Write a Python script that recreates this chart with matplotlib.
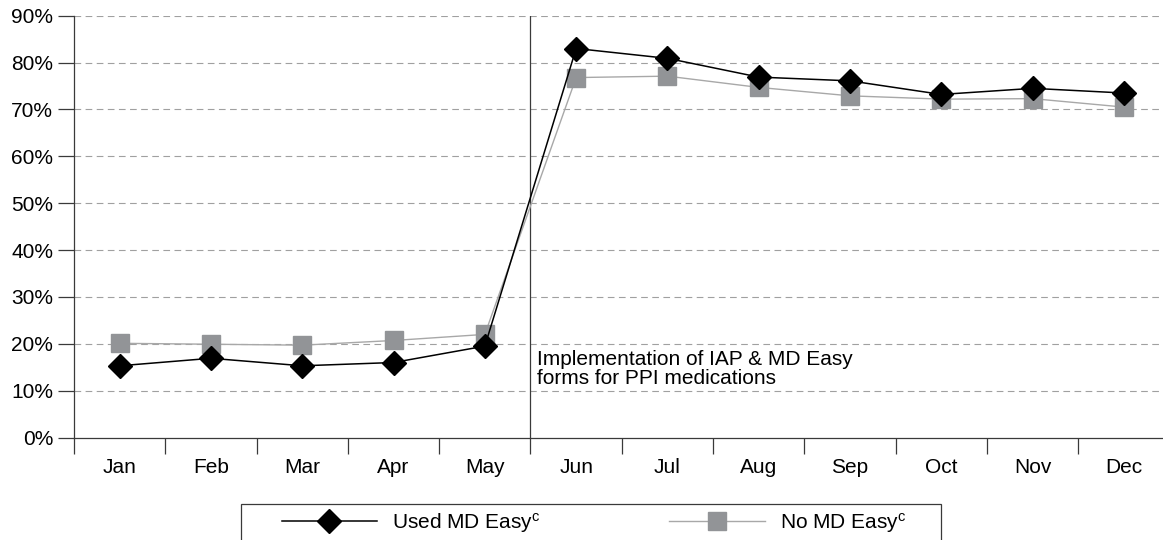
import numpy as np
import matplotlib
matplotlib.use("Agg")
import matplotlib.pyplot as plt
from matplotlib.lines import Line2D
from matplotlib.patches import Rectangle

# ---- data (percent) ----
months = ["Jan", "Feb", "Mar", "Apr", "May", "Jun",
          "Jul", "Aug", "Sep", "Oct", "Nov", "Dec"]
used_md_easy = [15.3, 16.9, 15.3, 16.0, 19.5, 83.0, 80.9, 76.9, 76.1, 73.2, 74.5, 73.5]
no_md_easy = [20.1, 19.9, 19.7, 20.7, 22.0, 76.8, 77.1, 74.7, 72.9, 72.2, 72.3, 70.5]
y_ticks = [0, 10, 20, 30, 40, 50, 60, 70, 80, 90]
note = "Implementation of IAP & MD Easy\nforms for PPI medications"

plt.rcParams['font.family'] = ['Liberation Sans', 'DejaVu Sans']
plt.rcParams['mathtext.default'] = 'regular'
fs = 15
axcol = '#3a3a3a'

W, H = 1163, 540
fig = plt.figure(figsize=(W / 100, H / 100), dpi=100)
ax = fig.add_axes([74 / W, (H - 437.5) / H, 1095.6 / W, (437.5 - 15.7) / H])

x = np.arange(len(months))
ax.plot(x, no_md_easy, color='#a8a8a8', lw=1.0, marker='s', ms=13.5,
        mfc='#929497', mec='#929497', zorder=3)
ax.plot(x, used_md_easy, color='black', lw=1.1, marker='D', ms=12.7,
        mfc='black', mec='black', zorder=4)

# grid
for v in y_ticks[1:]:
    ax.axhline(v, color='#a0a0a0', lw=0.8, ls=(0, (6, 4)), zorder=1)

# vertical line between May and Jun
ax.axvline(4.5, color=axcol, lw=0.9, zorder=2)
ax.text(4.57, 14.6, note, fontsize=fs, va='center', ha='left',
        linespacing=1.0)

ax.set_xlim(-0.5, 11.5)
ax.set_ylim(0, 90)
ax.set_yticks(y_ticks)
ax.set_yticklabels([f"{v}%" for v in y_ticks])
ax.set_xticks(np.arange(-0.5, 12, 1))
ax.set_xticklabels([])
ax.set_xticks(x, minor=True)
ax.set_xticklabels(months, minor=True)

ax.tick_params(axis='both', which='major', length=11.5, width=0.9,
               color=axcol, labelsize=fs, direction='out')
ax.tick_params(axis='y', pad=3.5)
ax.tick_params(axis='x', which='minor', length=0, labelsize=fs, pad=15)

for s in ['top', 'right']:
    ax.spines[s].set_visible(False)
for s in ['left', 'bottom']:
    ax.spines[s].set_color(axcol)
    ax.spines[s].set_linewidth(0.9)

# legend box
fig.patches.append(Rectangle((241 / W, (H - 560) / H), 700 / W, 56 / H,
                             transform=fig.transFigure, fill=False,
                             edgecolor=axcol, lw=0.9))
h1 = Line2D([], [], color='black', lw=1.1, marker='D', ms=12.7,
            mfc='black', mec='black')
h2 = Line2D([], [], color='#a8a8a8', lw=1.0, marker='s', ms=13.5,
            mfc='#929497', mec='#929497')
fig.legend([h1, h2], ["Used MD Easy$^{c}$", "No MD Easy$^{c}$"],
           loc='center left', bbox_to_anchor=(281.7 / W, (H - 523) / H),
           ncol=2, frameon=False, fontsize=fs, borderpad=0,
           borderaxespad=0, handlelength=4.57, handletextpad=0.72,
           columnspacing=6.2)

fig.savefig("out.png", dpi=100)
